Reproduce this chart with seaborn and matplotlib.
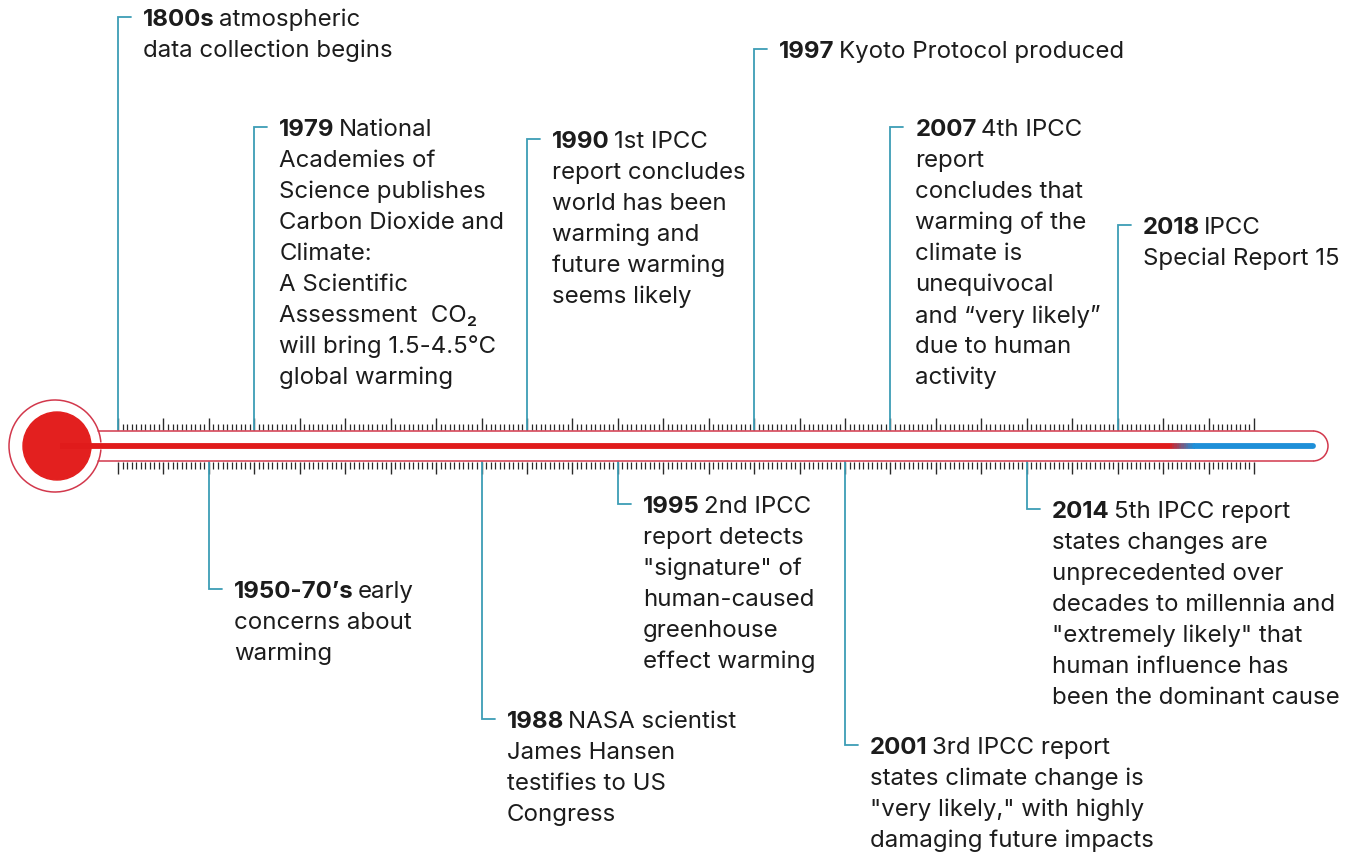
import numpy as np
import pandas as pd
import matplotlib
matplotlib.use("Agg")
import matplotlib.pyplot as plt
from matplotlib.patches import Ellipse, Arc
from matplotlib.collections import LineCollection
import matplotlib.colors as mcolors
import seaborn as sns

# ---------------- data ----------------
years = ["1800s", "1950-70\u2019s", "1979", "1988", "1990", "1995",
         "1997", "2001", "2007", "2014", "2018"]
# position of each event on the thermometer scale (minor-tick index)
scale_pos = [0, 20, 30, 80, 90, 110, 140, 160, 170, 200, 220]
sides = ["top", "bottom", "top", "bottom", "top", "bottom",
         "top", "bottom", "top", "bottom", "top"]
first_lines = ["atmospheric", "early", "National", "NASA scientist", "1st IPCC",
               "2nd IPCC", "Kyoto Protocol produced", "3rd IPCC report",
               "4th IPCC", "5th IPCC report", "IPCC"]
more_lines = [
    ["data collection begins"],
    ["concerns about", "warming"],
    ["Academies of", "Science publishes", "Carbon Dioxide and", "Climate:",
     "A Scientific", "Assessment  CO\u2082", "will bring 1.5-4.5\u00b0C", "global warming"],
    ["James Hansen", "testifies to US", "Congress"],
    ["report concludes", "world has been", "warming and", "future warming", "seems likely"],
    ["report detects", "\"signature\" of", "human-caused", "greenhouse", "effect warming"],
    [],
    ["states climate change is", "\"very likely,\" with highly", "damaging future impacts"],
    ["report", "concludes that", "warming of the", "climate is", "unequivocal",
     "and \u201cvery likely\u201d", "due to human", "activity"],
    ["states changes are", "unprecedented over", "decades to millennia and",
     "\"extremely likely\" that", "human influence has", "been the dominant cause"],
    ["Special Report 15"],
]
n_ticks = 250
major_every = 10
warm_end = 234      # scale index where red mercury turns blue
scale_end = 263     # end of mercury column

# ---------------- layout (pixels) ----------------
label_y = [20, 592, 130, 722, 142, 507, 52, 748, 130, 512, 228]
W, H = 1364, 857
X0 = 118.0
TICK = (1254.0 - 118.0) / n_ticks
TUBE_TOP, TUBE_BOT, TUBE_MID = 431.0, 461.0, 446.0
FS = 17.3
LS = 31.0
TEXT_DX = 25.0

RED = "#e01b1b"
OUT_RED = "#d2384c"
BLUE = "#1e8fd8"
TEAL = "#3d9db5"
TXT = "#1c1c1c"


def u(px):
    return (px - X0) / TICK


sns.set_theme(style="white")
plt.rcParams["font.family"] = ["Inter", "DejaVu Sans"]

fig = plt.figure(figsize=(W / 100, H / 100), dpi=100)
ax = fig.add_axes([0, 0, 1, 1])
ax.set_xlim(u(0), u(W))
ax.set_ylim(H, 0)
ax.axis("off")

# ---- ticks ----
idx = np.arange(n_ticks + 1)
major = idx % major_every == 0
ax.vlines(idx[~major], 424, TUBE_TOP - 1, color="#2a2a2a", lw=0.9)
ax.vlines(idx[major], 418, TUBE_TOP - 1, color="#2a2a2a", lw=1.0)
ax.vlines(idx[~major], TUBE_BOT + 1, 469, color="#2a2a2a", lw=0.9)
ax.vlines(idx[major], TUBE_BOT + 1, 474, color="#2a2a2a", lw=1.0)

# ---- thermometer outline ----
cx, cy, r_out = 55.0, 446.0, 46.0
ax.add_patch(Arc((u(cx), cy), 2 * r_out / TICK, 2 * r_out, theta1=19, theta2=341,
                 color=OUT_RED, lw=1.1, zorder=3))
x_join = cx + np.sqrt(r_out ** 2 - (TUBE_MID - TUBE_TOP) ** 2)
end_px = 1313.0
ax.plot([u(x_join), u(end_px)], [TUBE_TOP, TUBE_TOP], color=OUT_RED, lw=1.1, zorder=3)
ax.plot([u(x_join), u(end_px)], [TUBE_BOT, TUBE_BOT], color=OUT_RED, lw=1.1, zorder=3)
ax.add_patch(Arc((u(end_px), TUBE_MID), (TUBE_BOT - TUBE_TOP) / TICK, TUBE_BOT - TUBE_TOP,
                 theta1=-90, theta2=90, color=OUT_RED, lw=1.1, zorder=3))

# bulb
ax.add_patch(Ellipse((u(57), 446), 68 / TICK, 68, color="#e3201f", zorder=4))

# mercury
merc = pd.DataFrame({"x": [u(60), warm_end - 3], "y": [TUBE_MID, TUBE_MID]})
sns.lineplot(data=merc, x="x", y="y", color=RED, lw=4.2, ax=ax, zorder=4,
             solid_capstyle="butt")
gx = np.linspace(warm_end - 3, warm_end + 3, 13)
segs = [[(gx[i], TUBE_MID), (gx[i + 1], TUBE_MID)] for i in range(len(gx) - 1)]
cmap = mcolors.LinearSegmentedColormap.from_list("rb", [RED, BLUE])
cols = [cmap(t) for t in np.linspace(0, 1, len(segs))]
ax.add_collection(LineCollection(segs, colors=cols, lw=4.2, zorder=4))
ax.plot([warm_end + 3, scale_end], [TUBE_MID, TUBE_MID], color=BLUE, lw=4.2,
        solid_capstyle="round", zorder=4)

# ---- events ----
for yr, pos, side, ly, l1, rest in zip(years, scale_pos, sides, label_y,
                                        first_lines, more_lines):
    corner = ly - 3
    base = TUBE_TOP - 1 if side == "top" else TUBE_BOT + 1
    ax.plot([pos, pos, pos + 13 / TICK], [base, corner, corner], color=TEAL,
            lw=1.3, solid_joinstyle="miter", zorder=2)
    xt = pos + TEXT_DX / TICK
    t = ax.text(xt, ly, yr, fontsize=FS, fontweight="bold", color=TXT,
                ha="left", va="center")
    ax.annotate(l1, xy=(1, 0), xycoords=t, xytext=(4, 0),
                textcoords="offset pixels", fontsize=FS, color=TXT,
                ha="left", va="bottom")
    for j, line in enumerate(rest):
        ax.text(xt, ly + (j + 1) * LS, line, fontsize=FS, color=TXT,
                ha="left", va="center")

fig.savefig("out.png", dpi=100, facecolor="white")
